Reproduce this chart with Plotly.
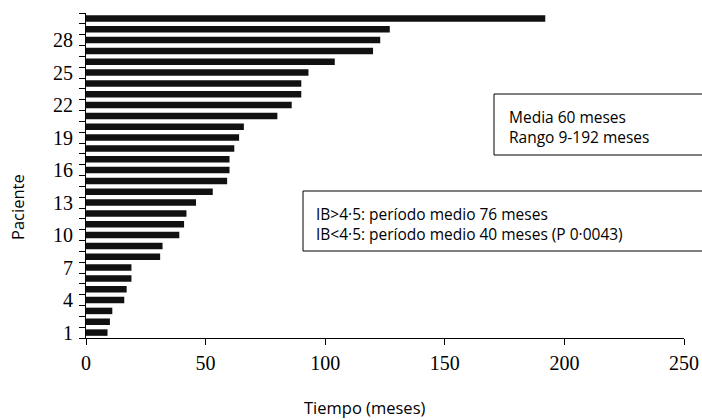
import plotly.graph_objects as go

patients = list(range(1, 31))
months = [9, 10, 11, 16, 17, 19, 19, 31, 32, 39, 41, 42, 46, 53, 59, 60, 60, 62, 64, 66,
          80, 86, 90, 90, 93, 104, 120, 123, 127, 192]
y_ticks = [1, 4, 7, 10, 13, 16, 19, 22, 25, 28]
x_ticks = [0, 50, 100, 150, 200, 250]
box1_lines = ["Media 60 meses", "Rango 9-192 meses"]
box2_lines = ["IB>4·5: período medio 76 meses", "IB<4·5: período medio 40 meses (P 0·0043)"]

W, H = 702, 420
L, R, T, B = 86, 18, 13, 82
pw, ph = W - L - R, H - T - B

def px(x):
    return (x - L) / pw

def py(y):
    return 1 - (y - T) / ph

fig = go.Figure(go.Bar(
    x=months, y=patients, orientation="h", width=0.6,
    marker=dict(color="#111111", line=dict(width=0)),
    hoverinfo="skip",
))

sans = "Open Sans"
serif = "Liberation Serif, Times New Roman, serif"

fig.update_layout(
    width=W, height=H, margin=dict(l=L, r=R, t=T, b=B, autoexpand=False),
    plot_bgcolor="white", paper_bgcolor="white", showlegend=False,
    xaxis=dict(range=[0, 250], tickvals=x_ticks, ticks="outside", ticklen=6,
               tickcolor="black", showline=True, linecolor="black", linewidth=1,
               showgrid=False, zeroline=False, automargin=False, ticklabelstandoff=1,
               tickfont=dict(family=serif, size=20, color="black")),
    yaxis=dict(range=[0.5, 30.5], tickvals=y_ticks, ticks="", showline=True,
               linecolor="black", linewidth=1, showgrid=False, zeroline=False,
               automargin=False, ticklabelstandoff=8,
               tickfont=dict(family=serif, size=20, color="black"),
               minor=dict(tickvals=[i + 0.5 for i in range(0, 31)], ticks="outside",
                          ticklen=6, tickcolor="black")),
)

# axis titles as annotations
fig.add_annotation(text="Tiempo (meses)", xref="paper", yref="paper",
                   x=px(364), y=py(407), xanchor="center", yanchor="middle",
                   showarrow=False, font=dict(family=sans, size=16.5, color="black"))
fig.add_annotation(text="Paciente", xref="paper", yref="paper", textangle=-90,
                   x=px(17), y=py(207), xanchor="center", yanchor="middle",
                   showarrow=False, font=dict(family=sans, size=16.5, color="black"))

# boxes
fig.add_shape(type="rect", xref="paper", yref="paper",
              x0=px(494), x1=px(710), y0=py(94), y1=py(155),
              line=dict(color="black", width=1), fillcolor="white")
fig.add_shape(type="rect", xref="paper", yref="paper",
              x0=px(303), x1=px(710), y0=py(191), y1=py(251),
              line=dict(color="black", width=1), fillcolor="white")
fig.add_annotation(text="<br>".join(box1_lines), xref="paper", yref="paper",
                   x=px(507), y=py(127), xanchor="left", yanchor="middle", align="left",
                   showarrow=False, font=dict(family=sans, size=15.5, color="black"))
fig.add_annotation(text="<br>".join(box2_lines), xref="paper", yref="paper",
                   x=px(314), y=py(224), xanchor="left", yanchor="middle", align="left",
                   showarrow=False, font=dict(family=sans, size=15.5, color="black"))

fig.write_html("out.html", config={"displayModeBar": False},
               post_script="document.body.style.margin='0px';document.body.style.overflow='hidden';")
